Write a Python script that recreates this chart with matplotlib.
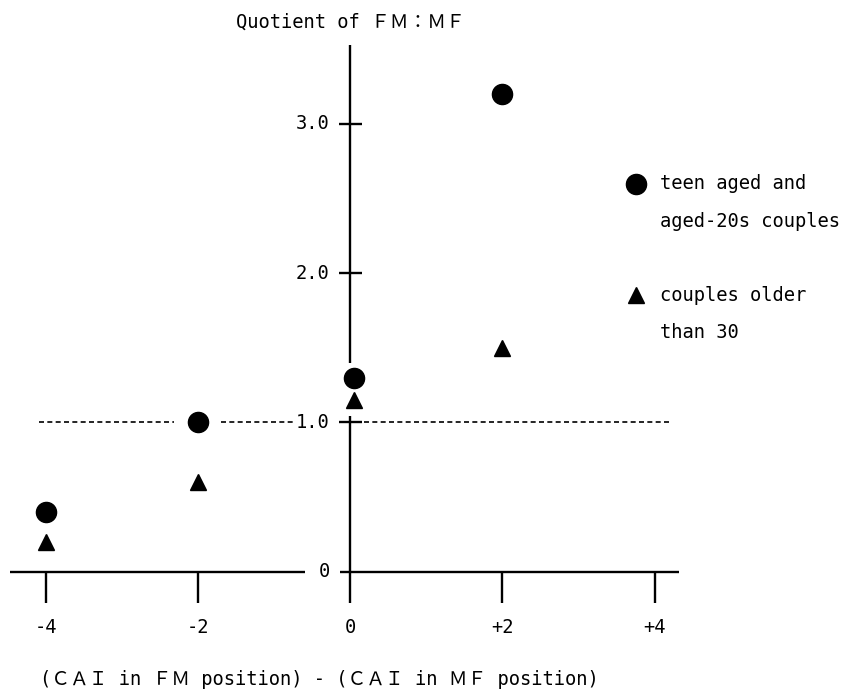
import matplotlib
matplotlib.use("Agg")
import matplotlib.pyplot as plt

# ---- data ----
x_positions = [-4, -2, 0.05, 2]
young_couples = [0.4, 1.0, 1.3, 3.2]      # teen aged and aged-20s couples
older_couples = [0.2, 0.6, 1.15, 1.5]     # couples older than 30
x_ticks = [-4, -2, 0, 2, 4]
x_tick_labels = ["-4", "-2", "0", "+2", "+4"]
y_ticks = [0, 1, 2, 3]
y_tick_labels = ["0", "1.0", "2.0", "3.0"]

FONT = ["DejaVu Sans Mono", "Noto Sans CJK JP"]
plt.rcParams["font.family"] = FONT
FS = 13.5

fig = plt.figure(figsize=(8.45, 6.95), dpi=100)
ax = fig.add_axes([0, 0, 1, 1])
ax.set_xlim(-4.60, 6.50)
ax.set_ylim(-0.826, 3.829)
ax.axis("off")

lw_axis = 1.7
# y axis (interrupted near the markers at x=0)
ax.vlines(0, 1.40, 3.53, color="black", lw=lw_axis)
ax.vlines(0, -0.21, 1.04, color="black", lw=lw_axis)
# x axis (interrupted at the "0" label)
ax.hlines(0, -4.47, -0.60, color="black", lw=lw_axis)
ax.hlines(0, -0.14, 4.32, color="black", lw=lw_axis)

# x ticks (downward)
for xt in x_ticks:
    if xt != 0:
        ax.vlines(xt, -0.21, 0, color="black", lw=lw_axis)
# y ticks (crosses)
for yt in y_ticks[1:]:
    ax.hlines(yt, -0.15, 0.15, color="black", lw=lw_axis)

# dashed reference line at 1.0
dash = (0, (3.0, 2.0))
for x0, x1 in [(-4.09, -2.31), (-1.70, -0.74), (0.18, 4.22)]:
    ax.hlines(1.0, x0, x1, color="black", lw=1.2, linestyles=[dash])

# tick labels
for xt, lab in zip(x_ticks, x_tick_labels):
    ax.text(xt, -0.377, lab, ha="center", va="center", fontsize=FS)
for yt, lab in zip(y_ticks, y_tick_labels):
    ax.text(-0.27, yt, lab, ha="right", va="center", fontsize=FS)

# data markers
ax.plot(x_positions, young_couples, "o", color="black", ms=14.5, ls="none")
ax.plot(x_positions, older_couples, "^", color="black", ms=12, ls="none")

# titles
ax.text(0, 3.68, "Quotient of ＦＭ：ＭＦ", ha="center", va="center", fontsize=FS)
ax.text(-0.41, -0.725, "(ＣＡＩ in ＦＭ position) - (ＣＡＩ in ＭＦ position)",
        ha="center", va="center", fontsize=FS)

# legend (manual)
tr = ax.transAxes
ax.plot([0.7527], [0.7353], "o", color="black", ms=14.5, transform=tr, clip_on=False)
ax.text(0.781, 0.7353, "teen aged and", ha="left", va="center", fontsize=FS, transform=tr)
ax.text(0.781, 0.6806, "aged-20s couples", ha="left", va="center", fontsize=FS, transform=tr)
ax.plot([0.7527], [0.5755], "^", color="black", ms=12, transform=tr, clip_on=False)
ax.text(0.781, 0.5755, "couples older", ha="left", va="center", fontsize=FS, transform=tr)
ax.text(0.781, 0.5209, "than 30", ha="left", va="center", fontsize=FS, transform=tr)

fig.savefig("out.png", dpi=100, facecolor="white")
